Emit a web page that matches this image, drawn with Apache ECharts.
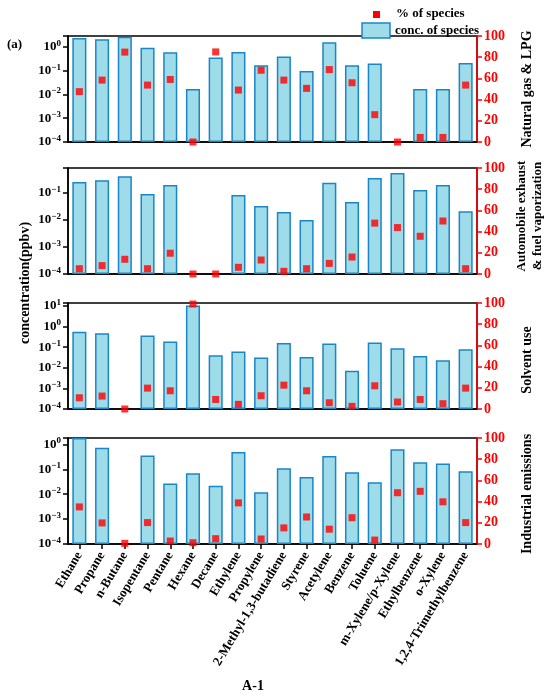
<!DOCTYPE html>
<html>
<head>
<meta charset="utf-8">
<script src="https://cdn.jsdelivr.net/npm/echarts@6/dist/echarts.min.js"></script>
<style>
  html, body { margin: 0; padding: 0; background: #fff; }
  #chart { width: 550px; height: 697px; }
</style>
</head>
<body>
<div id="chart"></div>
<script>
const species = ['Ethane', 'Propane', 'n-Butane', 'Isopentane', 'Pentane', 'Hexane', 'Decane',
  'Ethylene', 'Propylene', '2-Methyl-1,3-butadiene', 'Styrene', 'Acetylene', 'Benzene', 'Toluene',
  'm-Xylene/p-Xylene', 'Ethylbenzene', 'o-Xylene', '1,2,4-Trimethylbenzene'];

const sourceNames = ['Natural gas & LPG', 'Automobile exhaust\n& fuel vaporization', 'Solvent use', 'Industrial emissions'];

// conc. of species (ppbv), left log axis
const concNatGas = [2.4, 2.1, 2.7, 0.93, 0.6, 0.017, 0.36, 0.62, 0.17, 0.4, 0.097, 1.6, 0.17, 0.2, null, 0.017, 0.017, 0.21];
const concVehicle = [0.26, 0.30, 0.42, 0.092, 0.20, null, null, 0.085, 0.033, 0.020, 0.010, 0.24, 0.047, 0.36, 0.55, 0.13, 0.20, 0.021];
const concSolvent = [0.57, 0.48, null, 0.37, 0.19, 10.5, 0.041, 0.062, 0.032, 0.16, 0.033, 0.15, 0.0071, 0.17, 0.089, 0.037, 0.023, 0.080];
const concIndustry = [1.8, 0.73, null, 0.36, 0.027, 0.069, 0.022, 0.49, 0.012, 0.11, 0.049, 0.34, 0.076, 0.030, 0.63, 0.19, 0.17, 0.083];

// % of species, right axis
const pctNatGas = [47.5, 58.4, 84.8, 53.7, 59, 0, 85, 49, 67.7, 58.4, 50.6, 68.3, 55.9, 25.8, 0, 4.3, 4.3, 53.7];
const pctVehicle = [5, 7.9, 13.9, 5, 19.6, 0, 0, 6.3, 13.2, 2.5, 5, 10, 16, 48, 43.8, 35.6, 50, 5];
const pctSolvent = [10.6, 12.2, 0, 19.7, 17.2, 99, 9, 4.4, 12.5, 22.5, 17.2, 5.9, 2.5, 21.9, 6.6, 9, 5, 19.7];
const pctIndustry = [35, 19.9, 0.6, 20.2, 2.8, 1.2, 5, 38.8, 4.7, 15.2, 25.5, 14, 24.8, 3.7, 48.4, 49.7, 39.8, 20.2];

// top of each left log axis
const concMax = [2.9, 0.85, 14, 1.8];

const concData = [concNatGas, concVehicle, concSolvent, concIndustry];
const pctData = [pctNatGas, pctVehicle, pctSolvent, pctIndustry];

const FONT = 'Liberation Serif';
const BAR_FILL = '#9fdce9';
const BAR_EDGE = '#1b86c6';
const panelTops = [36, 168, 303, 438];
const panelH = 106;

const chart = echarts.init(document.getElementById('chart'), null, { renderer: 'canvas' });

function powLabel(v) {
  const e = Math.log10(v);
  const r = Math.round(e);
  if (Math.abs(e - r) > 1e-6) return '';
  return '{b|10}{s|' + (r < 0 ? '\u2212' + (-r) : r) + '}';
}

const grids = [], xAxes = [], yAxes = [], series = [];

for (let i = 0; i < 4; i++) {
  const last = i === 3;
  grids.push({
    left: 68, right: 73, top: panelTops[i], height: panelH,
    show: true, borderColor: '#000', borderWidth: 1.5, backgroundColor: 'transparent'
  });
  xAxes.push({
    type: 'category', gridIndex: i, data: species,
    axisLine: { lineStyle: { color: '#000', width: 1.5 } },
    axisTick: { show: last, alignWithLabel: true, length: 5, lineStyle: { color: '#000', width: 1.5 } },
    axisLabel: {
      show: last, rotate: 59, margin: 9, interval: 0,
      fontFamily: FONT, fontWeight: 'bold', fontSize: 13, color: '#000'
    }
  });
  yAxes.push({
    type: 'log', gridIndex: i, min: 1e-4, max: concMax[i], startValue: 1e-4,
    axisLine: { show: true, lineStyle: { color: '#000', width: 1.5 } },
    axisTick: { show: true, length: 5, lineStyle: { color: '#000', width: 1.5 } },
    splitLine: { show: false },
    axisLabel: {
      formatter: powLabel, margin: 7,
      rich: {
        b: { fontFamily: FONT, fontWeight: 'bold', fontSize: 13, color: '#000', lineHeight: 16 },
        s: { fontFamily: FONT, fontWeight: 'bold', fontSize: 9, color: '#000', lineHeight: 9, verticalAlign: 'top' }
      }
    }
  });
  yAxes.push({
    type: 'value', gridIndex: i, position: 'right', min: 0, max: 100, interval: 20,
    axisLine: { show: true, lineStyle: { color: '#ff0000', width: 1.5 } },
    axisTick: { show: true, length: 5, lineStyle: { color: '#ff0000', width: 1.5 } },
    splitLine: { show: false },
    axisLabel: { margin: 7, fontFamily: FONT, fontWeight: 'bold', fontSize: 14, color: '#ff0000' }
  });
  series.push({
    name: 'conc. of species', type: 'bar', xAxisIndex: i, yAxisIndex: 2 * i,
    data: concData[i], barWidth: '62%',
    itemStyle: { color: BAR_FILL, borderColor: BAR_EDGE, borderWidth: 1.5 }
  });
  series.push({
    name: '% of species', type: 'scatter', xAxisIndex: i, yAxisIndex: 2 * i + 1,
    data: pctData[i], symbol: 'rect', symbolSize: 7, clip: false, z: 5,
    itemStyle: { color: '#ff0000' }
  });
}

// inward half of the crossing ticks on the bottom panel
xAxes.push({
  type: 'category', gridIndex: 3, data: species, position: 'bottom',
  axisLine: { show: false },
  axisTick: { show: true, inside: true, alignWithLabel: true, length: 5, lineStyle: { color: '#000', width: 1.5 } },
  axisLabel: { show: false }
});

const titleFont = { fontFamily: FONT, fontWeight: 'bold', fill: '#000' };
const graphic = [
  { type: 'text', left: 7, top: 38, style: Object.assign({ text: '(a)', fontSize: 13 }, titleFont) },
  {
    type: 'text', x: 25, y: 283, rotation: Math.PI / 2,
    style: Object.assign({ text: 'concentration(ppbv)', fontSize: 14, align: 'center', verticalAlign: 'middle' }, titleFont)
  },
  {
    type: 'text', x: 253, y: 686,
    style: Object.assign({ text: 'A-1', fontSize: 14, align: 'center', verticalAlign: 'middle' }, titleFont)
  },
  // legend
  { type: 'rect', shape: { x: 373, y: 11, width: 7, height: 7 }, style: { fill: '#ff0000' } },
  { type: 'text', x: 396, y: 14, style: Object.assign({ text: '% of species', fontSize: 13, verticalAlign: 'middle' }, titleFont) },
  { type: 'rect', shape: { x: 362, y: 23, width: 28, height: 15 }, style: { fill: BAR_FILL, stroke: BAR_EDGE, lineWidth: 1.5 } },
  { type: 'text', x: 395, y: 31, style: Object.assign({ text: 'conc. of species', fontSize: 13, verticalAlign: 'middle' }, titleFont) }
];
const titleX = [527, 530, 527, 527];
const titleY = [89, 216, 360, 494];
const titleSize = [14, 13, 14, 14];
sourceNames.forEach((name, i) => {
  graphic.push({
    type: 'text', x: titleX[i], y: titleY[i], rotation: Math.PI / 2,
    style: Object.assign({ text: name, fontSize: titleSize[i], lineHeight: 16, align: 'center', verticalAlign: 'middle' }, titleFont)
  });
});

chart.setOption({
  animation: false,
  backgroundColor: '#fff',
  grid: grids,
  xAxis: xAxes,
  yAxis: yAxes,
  series: series,
  graphic: graphic
});
</script>
</body>
</html>
